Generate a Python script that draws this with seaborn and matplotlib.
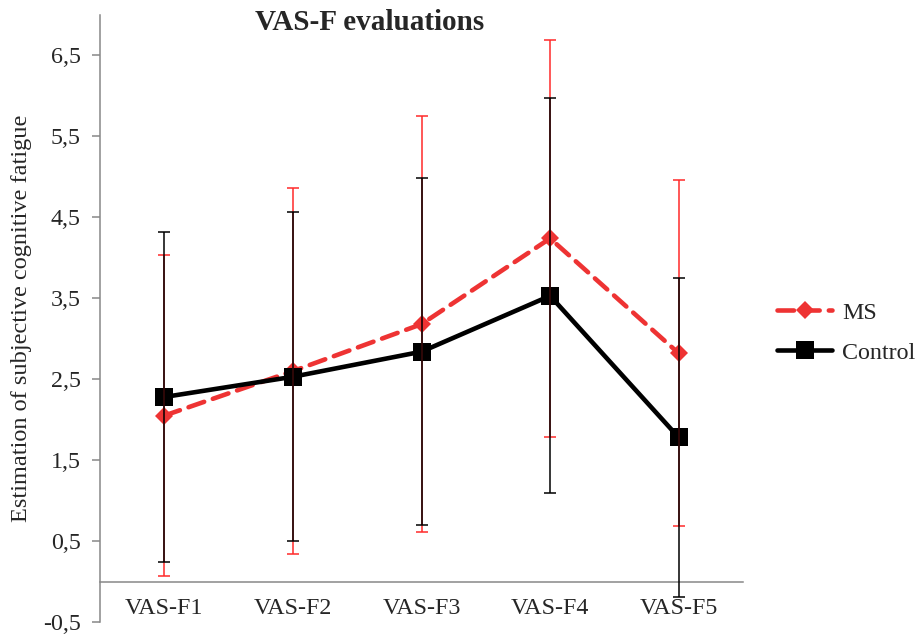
import matplotlib
matplotlib.use("Agg")
import matplotlib.pyplot as plt
import seaborn as sns
import pandas as pd
import numpy as np

# ---- data ----
categories = ["VAS-F1", "VAS-F2", "VAS-F3", "VAS-F4", "VAS-F5"]
ms_mean = [2.05, 2.60, 3.18, 4.24, 2.82]
ms_sd = [1.98, 2.26, 2.57, 2.45, 2.14]
control_mean = [2.28, 2.53, 2.84, 3.53, 1.78]
control_sd = [2.04, 2.03, 2.14, 2.44, 1.97]
group_names = ["MS", "Control"]
yticks = [-0.5, 0.5, 1.5, 2.5, 3.5, 4.5, 5.5, 6.5]
ytick_labels = ["-0,5", "0,5", "1,5", "2,5", "3,5", "4,5", "5,5", "6,5"]

RED = "#EE3333"
ERR_RED = "#FF2A2A"
TXT = "#262626"
GRAY = "#878787"

sns.set_theme(style="white")
plt.rcParams["font.family"] = ["Liberation Serif", "DejaVu Serif"]

pos = np.arange(len(categories))
df = pd.DataFrame({
    "pos": np.concatenate([pos, pos]),
    "value": ms_mean + control_mean,
    "group": [group_names[0]] * len(pos) + [group_names[1]] * len(pos),
})

fig = plt.figure(figsize=(9.21, 6.38), dpi=100)
ax = fig.add_axes([100 / 921, 1 - 622 / 638, 643 / 921, 607 / 638])

sns.lineplot(
    data=df, x="pos", y="value", hue="group", style="group",
    hue_order=group_names, style_order=group_names,
    palette={"MS": RED, "Control": "black"},
    markers={"MS": "D", "Control": "s"},
    dashes={"MS": (3.6, 2.0), "Control": ""},
    linewidth=3.3, markeredgewidth=0, errorbar=None, ax=ax,
    dash_capstyle="round", zorder=2,
)
for line in ax.get_lines():
    if line.get_marker() == "D":
        line.set_markersize(9.5)
    elif line.get_marker() == "s":
        line.set_markersize(12.5)

ax.errorbar(pos, ms_mean, yerr=ms_sd, fmt="none", ecolor=ERR_RED,
            elinewidth=1.1, capsize=4.3, capthick=1.1, zorder=4)
ax.errorbar(pos, control_mean, yerr=control_sd, fmt="none", ecolor="black",
            elinewidth=1.1, capsize=4.3, capthick=1.1, zorder=5)

ax.set_xlim(-0.5, len(categories) - 0.5)
ax.set_ylim(-0.5, 7.0)
ax.set_yticks(yticks)
ax.set_yticklabels(ytick_labels)
ax.set_xticks(pos)
ax.set_xticklabels(categories)
ax.set_xticks(np.arange(0.5, len(categories), 1.0), minor=True)
ax.tick_params(axis="x", which="major", length=0, pad=12, labelsize=17.3, labelcolor=TXT)
ax.tick_params(axis="x", which="minor", length=6, width=1.1, color=GRAY, direction="out")
ax.tick_params(axis="y", length=6, width=1.1, color=GRAY, direction="out", pad=8,
               labelsize=17.3, labelcolor=TXT, left=True)
ax.set_xlabel("")
ax.set_ylabel("Estimation of subjective cognitive fatigue", fontsize=17.5, color=TXT)
ax.yaxis.set_label_coords(-0.106, 0.5)

for s in ["top", "right"]:
    ax.spines[s].set_visible(False)
ax.spines["bottom"].set_position(("data", 0))
for s in ["left", "bottom"]:
    ax.spines[s].set_color(GRAY)
    ax.spines[s].set_linewidth(1.1)
ax.grid(False)

handles, labels = ax.get_legend_handles_labels()
ax.legend(handles, labels, loc="upper left", bbox_to_anchor=(777 / 921, 1 - 302 / 638),
          bbox_transform=fig.transFigure, frameon=False, fontsize=17.3,
          handlelength=2.3, handletextpad=0.4, labelspacing=0.75,
          borderpad=0, borderaxespad=0, labelcolor=TXT)

fig.text(370 / 921, 1 - 22 / 638, "VAS-F evaluations", ha="center", va="center",
         fontsize=21, fontweight="bold", color=TXT)

fig.savefig("out.png", dpi=100)
